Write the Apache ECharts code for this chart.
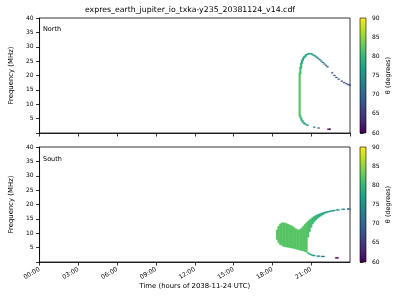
<!DOCTYPE html>
<html>
<head>
<meta charset="utf-8">
<script src="https://cdn.jsdelivr.net/npm/echarts@6/dist/echarts.min.js"></script>
<style>html,body{margin:0;padding:0;background:#fff}#c{width:400px;height:300px}</style>
</head>
<body>
<div id="c"></div>
<script>
// ---- data (time in hours of 2038-11-24 UTC, frequency in MHz, theta in degrees) ----
const titleText = 'expres_earth_jupiter_io_txka-y235_20381124_v14.cdf';
const hourTicks = [0, 3, 6, 9, 12, 15, 18, 21];
const freqTicks = [5, 10, 15, 20, 25, 30, 35, 40];
const thetaTicks = [60, 65, 70, 75, 80, 85, 90];

const northTime  = [20.11,20.16,20.22,20.29,20.37,20.47,20.58,20.70,20.82,20.94,21.06,21.18,21.30,21.42,21.54,21.66,21.78,21.90,22.02,22.14,22.26,
                    22.62,22.80,22.95,23.12,23.37,23.55,23.72,23.88,23.98,
                    20.16,20.24,20.34,20.46,20.58,20.72,21.24,21.57,22.33,22.45];
const northLow   = [6.0,20.5,22.5,24.2,25.2,26.0,26.6,27.1,27.4,27.4,27.2,26.9,26.6,26.2,25.8,25.4,24.9,24.4,23.9,23.4,22.9,
                    20.8,19.9,19.2,18.6,17.9,17.4,17.0,16.7,16.5,
                    5.2,4.3,3.6,3.1,2.8,2.5,1.9,1.6,1.2,1.2];
const northHigh  = [20.9,22.9,24.4,25.4,26.2,26.8,27.3,27.6,27.8,27.8,27.6,27.3,27.0,26.6,26.2,25.7,25.2,24.7,24.2,23.7,23.2,
                    21.1,20.2,19.5,18.9,18.2,17.7,17.3,17.0,16.8,
                    6.2,5.3,4.4,3.7,3.2,2.9,2.2,1.9,1.5,1.5];
const northTheta = [82,81,80,79.5,79,78.5,78,77.5,77,77,76.5,76,75,74.5,74,73,72.5,72,71,70.5,70,
                    69,68.5,68,68,67.5,67,67,67,67,
                    81,80,79,78,77,76,72,67,60.5,60.5];

const southTime  = [18.36,18.48,18.60,18.72,18.84,18.96,19.08,19.20,19.32,19.44,19.56,19.68,19.80,19.92,20.04,20.16,20.28,20.40,20.52,20.64,
                    20.76,20.88,21.00,21.12,21.24,21.36,21.48,21.60,21.72,21.84,21.96,22.08,22.20,22.32,22.44,22.56,22.68,22.80,
                    23.00,23.12,23.42,23.54,23.84,23.96,
                    20.76,20.88,21.00,21.12,21.24,21.50,21.62,21.85,21.97,22.93,23.05];
const southLow   = [7.8,6.7,6.1,5.8,5.5,5.3,5.2,5.1,5.0,4.9,4.8,4.7,4.5,4.4,4.2,4.1,3.9,3.8,3.6,3.4,
                    8.6,10.5,12.0,13.2,14.0,14.6,15.1,15.6,15.9,16.3,16.6,16.9,17.1,17.3,17.5,17.6,17.7,17.8,
                    18.0,18.0,18.2,18.2,18.3,18.3,
                    2.9,2.6,2.4,2.2,2.1,1.9,1.9,1.8,1.8,1.3,1.3];
const southHigh  = [11.2,12.5,13.2,13.6,13.7,13.6,13.4,13.2,12.9,12.7,12.4,12.0,11.6,11.3,11.1,11.4,11.9,12.5,13.1,13.7,
                    14.2,14.7,15.1,15.5,15.9,16.2,16.5,16.7,16.9,17.1,17.3,17.4,17.6,17.7,17.8,17.9,18.0,18.1,
                    18.3,18.3,18.5,18.5,18.6,18.6,
                    3.3,3.0,2.7,2.5,2.4,2.2,2.2,2.1,2.1,1.6,1.6];
const southTheta = [82,82,82,82,82,82,82,82,82,82,82,82,82,82,82,82,82,82,82,82,
                    81.5,81,81,80.5,80,80,79.5,79,79,78.5,78,78,77.5,77,77,77,76.5,76,
                    76,76,75.5,75.5,69,69,
                    80,79,78,77,76,75,75,73,73,60.5,60.5];

// ---- presentation ----
const CELL = 0.15; // hours: drawn width of one time cell
const FONT = 'DejaVu Sans';
const viridis = ['#440154','#482878','#3e4989','#31688e','#26828e','#1f9e89','#35b779','#6ece58','#b5de2b','#fde725'];

function build(t, lo, hi, th) { return t.map((v, i) => [v, lo[i], hi[i], th[i]]); }
const northData = build(northTime, northLow, northHigh, northTheta);
const southData = build(southTime, southLow, southHigh, southTheta);

function renderCell(params, api) {
  const t = api.value(0), lo = api.value(1), hi = api.value(2);
  const p1 = api.coord([t - CELL / 2, hi]);
  const p2 = api.coord([t + CELL / 2, lo]);
  return {
    type: 'rect',
    shape: { x: p1[0], y: p1[1], width: Math.max(p2[0] - p1[0], 1), height: Math.max(p2[1] - p1[1], 1) },
    style: { fill: api.visual('color'), stroke: api.visual('color'), lineWidth: 0.3 }
  };
}

const pad2 = v => (v < 10 ? '0' : '') + v;
const axisLineStyle = { color: '#000', width: 0.8 };
const TICK_FS = 6;

function timeAxis(gi, labels) {
  return {
    gridIndex: gi, type: 'value', min: 0, max: 24, interval: 3,
    axisLine: { show: true, onZero: false, lineStyle: axisLineStyle },
    axisTick: { show: true, length: 3.5, lineStyle: axisLineStyle },
    splitLine: { show: false },
    axisLabel: labels ? {
      show: true, rotate: 30, fontSize: 6.2, color: '#000', fontFamily: FONT, margin: 7,
      align: 'right', verticalAlign: 'middle',
      showMaxLabel: false,
      formatter: v => hourTicks.indexOf(v) >= 0 ? pad2(v) + ':00' : ''
    } : { show: false },
    name: labels ? 'Time (hours of 2038-11-24 UTC)' : '',
    nameLocation: 'middle', nameGap: 21,
    nameTextStyle: { fontSize: 6.9, color: '#000', fontFamily: FONT }
  };
}
function freqAxis(gi) {
  return {
    gridIndex: gi, type: 'value', min: 0, max: 40, interval: 5,
    axisLine: { show: true, lineStyle: axisLineStyle },
    axisTick: { show: true, length: 3.5, lineStyle: axisLineStyle },
    splitLine: { show: false },
    axisLabel: { fontSize: TICK_FS, color: '#000', fontFamily: FONT, margin: 6,
      formatter: v => freqTicks.indexOf(v) >= 0 ? String(v) : '' },
    name: 'Frequency (MHz)', nameLocation: 'middle', nameGap: 17,
    nameTextStyle: { fontSize: 6.9, color: '#000', fontFamily: FONT }
  };
}
function thetaAxis(gi) {
  return {
    gridIndex: gi, type: 'value', position: 'right', min: 60, max: 90, interval: 5,
    axisLine: { show: false },
    axisTick: { show: true, length: 3.5, lineStyle: axisLineStyle },
    splitLine: { show: false },
    axisLabel: { fontSize: TICK_FS, color: '#000', fontFamily: FONT, margin: 6,
      formatter: v => thetaTicks.indexOf(v) >= 0 ? String(v) : '' },
    name: 'θ (degrees)', nameLocation: 'middle', nameGap: 19, nameRotate: 90,
    nameTextStyle: { fontSize: 6.5, color: '#000', fontFamily: FONT }
  };
}
function hiddenX(gi) { return { gridIndex: gi, type: 'value', min: 0, max: 1, show: false }; }

function colorbar(y) {
  return {
    type: 'rect', x: 360, y: y, z: 10,
    shape: { x: 0, y: 0, width: 6, height: 115 },
    style: {
      fill: new echarts.graphic.LinearGradient(0, 1, 0, 0,
        viridis.map((c, i) => ({ offset: i / (viridis.length - 1), color: c }))),
      stroke: '#000', lineWidth: 0.6
    }
  };
}

const chart = echarts.init(document.getElementById('c'), null, { renderer: 'canvas' });
chart.setOption({
  animation: false,
  backgroundColor: '#fff',
  textStyle: { fontFamily: FONT },
  grid: [
    { left: 31, top: 18, width: 319, height: 115, show: true, borderColor: '#000', borderWidth: 0.8, backgroundColor: 'transparent' },
    { left: 31, top: 147, width: 319, height: 115, show: true, borderColor: '#000', borderWidth: 0.8, backgroundColor: 'transparent' },
    { left: 360, top: 18, width: 6, height: 115 },
    { left: 360, top: 147, width: 6, height: 115 }
  ],
  xAxis: [timeAxis(0, false), timeAxis(1, true), hiddenX(2), hiddenX(3)],
  yAxis: [freqAxis(0), freqAxis(1), thetaAxis(2), thetaAxis(3)],
  visualMap: [
    { type: 'continuous', show: false, min: 60, max: 90, dimension: 3, seriesIndex: 0, inRange: { color: viridis } },
    { type: 'continuous', show: false, min: 60, max: 90, dimension: 3, seriesIndex: 1, inRange: { color: viridis } }
  ],
  series: [
    { type: 'custom', name: 'North', xAxisIndex: 0, yAxisIndex: 0, renderItem: renderCell,
      encode: { x: 0, y: [1, 2] }, data: northData, clip: true },
    { type: 'custom', name: 'South', xAxisIndex: 1, yAxisIndex: 1, renderItem: renderCell,
      encode: { x: 0, y: [1, 2] }, data: southData, clip: true }
  ],
  graphic: [
    { type: 'text', x: 190, y: 10, style: { text: titleText, fontSize: 7.8, fontFamily: FONT, fill: '#000', textAlign: 'center', textVerticalAlign: 'middle' } },
    { type: 'text', x: 43, y: 29.5, style: { text: 'North', fontSize: 6.5, fontFamily: FONT, fill: '#000', textAlign: 'left', textVerticalAlign: 'middle' } },
    { type: 'text', x: 43, y: 159, style: { text: 'South', fontSize: 6.5, fontFamily: FONT, fill: '#000', textAlign: 'left', textVerticalAlign: 'middle' } },
    colorbar(18),
    colorbar(147)
  ]
});
</script>
</body>
</html>
